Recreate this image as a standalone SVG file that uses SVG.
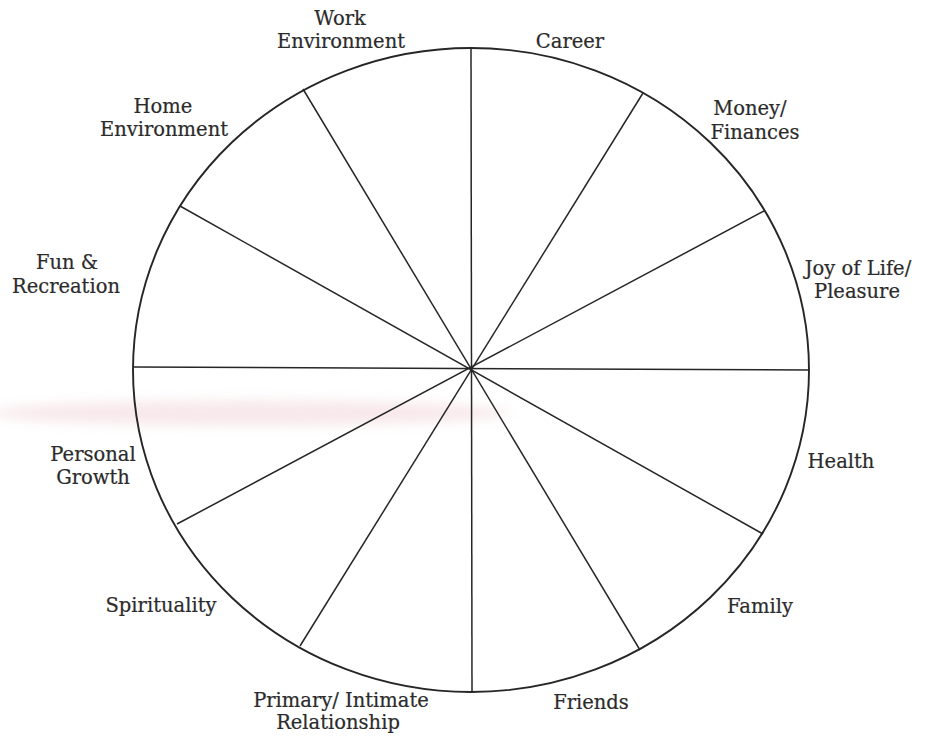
<svg xmlns="http://www.w3.org/2000/svg" width="933" height="736" viewBox="0 0 933 736">
  <style>
    .rim { fill: none; stroke: #262626; stroke-width: 1.9; }
    .spoke { stroke: #262626; stroke-width: 1.5; fill: none; }
    .lbl { font-family: "DejaVu Serif", "Liberation Serif", serif; font-size: 19.5px; fill: #2b2b2b; stroke: #2b2b2b; stroke-width: 0.2; text-anchor: middle; }
  </style>
  <defs>
    <filter id="soft" x="-20%" y="-200%" width="140%" height="500%">
      <feGaussianBlur stdDeviation="8 6"/>
    </filter>
  </defs>
  <rect width="933" height="736" fill="#ffffff"/>
  <!-- faint pink smear across the left half of the sheet -->
  <ellipse cx="250" cy="413" rx="260" ry="13" fill="#f1d3d8" opacity="0.5" filter="url(#soft)"/>

  <g id="wheel">
    <ellipse class="rim" cx="471" cy="370" rx="338" ry="322"/>
  </g>

  <g id="spokes">
    <line class="spoke" x1="471" y1="48" x2="472" y2="692"/>
    <line class="spoke" x1="133" y1="367" x2="809" y2="370"/>
    <line class="spoke" x1="303" y1="89" x2="640" y2="650"/>
    <line class="spoke" x1="643" y1="93" x2="300" y2="646"/>
    <line class="spoke" x1="180" y1="206" x2="763" y2="534"/>
    <line class="spoke" x1="764" y1="211" x2="177" y2="524"/>
  </g>

  <g id="work-environment"><text class="lbl" x="340" y="25">Work</text><text class="lbl" x="341" y="48">Environment</text></g>
  <g id="career"><text class="lbl" x="570" y="48">Career</text></g>
  <g id="home-environment"><text class="lbl" x="163" y="113">Home</text><text class="lbl" x="164" y="136">Environment</text></g>
  <g id="money-finances"><text class="lbl" x="750" y="115">Money/</text><text class="lbl" x="755" y="139">Finances</text></g>
  <g id="fun-recreation"><text class="lbl" x="67" y="269">Fun &amp;</text><text class="lbl" x="66" y="293">Recreation</text></g>
  <g id="joy-of-life"><text class="lbl" x="858" y="275">Joy of Life/</text><text class="lbl" x="857" y="298">Pleasure</text></g>
  <g id="health"><text class="lbl" x="841" y="468">Health</text></g>
  <g id="personal-growth"><text class="lbl" x="93" y="461">Personal</text><text class="lbl" x="93" y="484">Growth</text></g>
  <g id="spirituality"><text class="lbl" x="161" y="612">Spirituality</text></g>
  <g id="family"><text class="lbl" x="760" y="613">Family</text></g>
  <g id="primary-relationship"><text class="lbl" x="341" y="707">Primary/ Intimate</text><text class="lbl" x="338" y="729">Relationship</text></g>
  <g id="friends"><text class="lbl" x="591" y="709">Friends</text></g>
</svg>
